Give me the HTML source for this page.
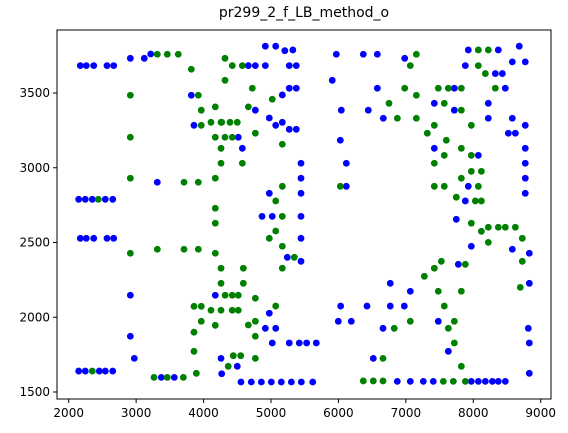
<!DOCTYPE html>
<html><head><meta charset="utf-8"><style>
body{margin:0;background:#fff;}
svg{display:block;font-family:"DejaVu Sans","Liberation Sans",sans-serif;}
</style></head><body>
<svg id="chart" width="568" height="433">
<text x="304" y="17" text-anchor="middle" font-size="14">pr299_2_f_LB_method_o</text>
<g id="marks"></g>
<rect x="57" y="30" width="494" height="369" fill="none" stroke="#000" stroke-width="1"/>
<g id="axes"></g>
</svg>
<script>
const xTicks=[2000,3000,4000,5000,6000,7000,8000,9000];
const yTicks=[1500,2000,2500,3000,3500];
const blueX=[2172,2261,2371,2568,2667,2914,3121,3216,3818,3858,2148,2246,2350,2543,2653,3314,
2172,2261,2371,2568,2667,2914,4174,2914,2973,4259,4500,4269,2148,2246,2454,2543,2653,3373,3566,
4664,4768,4916,5271,5375,4916,5070,5205,5324,5271,5375,5168,4768,4975,5070,5168,5271,5375,4515,4575,5445,5445,5445,4975,
4867,5019,5445,5909,5969,6369,6577,6577,6043,6443,6666,6028,6117,6117,
5445,5242,5445,4975,4916,5070,5019,5271,5420,5529,5672,4555,4708,4857,5005,5153,5302,5450,5619,6033,6424,5998,6191,6661,6517,
6983,7926,8371,8682,7882,8327,8431,8579,8771,7719,8475,7422,8223,7719,8223,8579,8771,8520,8624,7422,8075,8771,8771,8771,8771,7926,7882,
7748,7971,8579,8831,7778,6769,7066,8831,6769,6977,7481,8816,8831,7630,8831,6873,7066,7259,7407,7971,8075,8179,8283,8371,8475];
const blueY=[3683,3683,3683,3683,3683,3732,3732,3761,3485,3284,2789,2789,2789,2789,2789,2903,
2528,2528,2528,2528,2528,2147,2147,1873,1725,1725,1672,1622,1640,1640,1640,1640,1640,1598,1598,
3683,3683,3683,3683,3683,3813,3813,3783,3788,3532,3532,3487,3385,3333,3284,3304,3257,3257,3204,3130,3030,2930,2829,2829,
2675,2675,2675,3585,3759,3759,3759,3532,3385,3385,3331,3184,3030,2876,
2528,2401,2374,2027,1926,1926,1828,1828,1828,1828,1828,1567,1567,1567,1567,1567,1567,1567,1567,2075,2075,1973,1973,1926,1725,
3732,3788,3788,3813,3683,3630,3630,3708,3708,3532,3532,3431,3431,3385,3331,3331,3284,3231,3231,3130,3083,3130,3030,2930,2829,2876,2778,
2655,2475,2455,2428,2354,2227,2174,2227,2075,2075,1973,1926,1828,1772,1625,1571,1571,1571,1571,1571,1571,1571,1571,1571,1571];
const greenX=[3314,3462,3625,3818,2914,3922,3966,4174,3966,4110,4259,2914,4174,4259,4259,2914,3710,3922,4174,2439,4174,
4174,2914,3314,3710,3922,4174,4259,4259,4320,3858,3966,4110,4259,3966,4174,3858,3858,4366,4441,4551,2350,3265,3462,3700,3893,
4318,4426,4575,4318,4723,5019,4664,4269,4392,4500,4318,4426,4768,5168,4575,5168,5070,6750,6028,
5168,5070,4975,5168,5346,5168,4590,4590,4426,4515,4426,4515,4768,5070,4664,4768,4768,4768,6661,6369,6517,6661,
7156,7066,8075,8223,8075,8179,6983,7156,7481,7630,7823,8327,7570,7823,6874,7156,7422,7318,7971,7600,7570,7422,7823,7971,7971,8120,7823,7422,7570,8075,7748,8031,8120,
7971,8120,8223,8371,8475,8624,8223,8727,8727,7526,7422,7274,7882,7481,7823,8697,7570,6828,7066,7719,7630,7719,7823,7556,7704,7882];
const greenY=[3759,3759,3759,3659,3485,3485,3385,3407,3284,3304,3304,3204,3204,3130,3030,2930,2903,2903,2930,2789,2729,
2629,2428,2455,2455,2455,2428,2328,2227,2147,2073,2073,2047,2047,1973,1946,1900,1772,1672,1743,1743,1640,1598,1598,1598,1625,
3732,3683,3683,3585,3532,3458,3407,3304,3304,3304,3204,3204,3231,3157,3030,2876,2778,3431,2876,
2675,2577,2528,2475,2401,2328,2328,2227,2147,2147,2047,2047,2127,2075,1948,1973,1873,1725,1725,1574,1574,1574,
3759,3683,3788,3788,3683,3630,3532,3485,3532,3532,3532,3532,3431,3385,3331,3331,3284,3231,3284,3184,3083,3030,3130,3083,2976,2976,2930,2876,2876,2876,2803,2778,2778,
2629,2575,2602,2602,2602,2602,2501,2528,2374,2374,2328,2274,2354,2174,2174,2200,2075,1926,1973,1973,1926,1828,1672,1571,1571,1571];

const NS='http://www.w3.org/2000/svg';
const sx=v=>68.7+(v-2000)*0.06743;
const sy=v=>392-(v-1500)*0.1495;
const marks=document.getElementById('marks');
const axes=document.getElementById('axes');
function dots(xs,ys,color,name){
  for(let i=0;i<xs.length;i++){
    const c=document.createElementNS(NS,'circle');
    c.setAttribute('cx',sx(xs[i]));c.setAttribute('cy',sy(ys[i]));
    c.setAttribute('r',3.4);c.setAttribute('fill',color);
    
    
    marks.appendChild(c);
  }
}
dots(blueX,blueY,'#0000ff','blue-point');
dots(greenX,greenY,'#008000','green-point');
xTicks.forEach(t=>{
  const x=sx(t);
  const l=document.createElementNS(NS,'line');
  l.setAttribute('x1',x);l.setAttribute('x2',x);l.setAttribute('y1',399);l.setAttribute('y2',403);l.setAttribute('stroke','#000');
  
  
  axes.appendChild(l);
  const tx=document.createElementNS(NS,'text');
  tx.setAttribute('x',x);tx.setAttribute('y',417);tx.setAttribute('text-anchor','middle');tx.setAttribute('font-size','12');
  tx.textContent=t;
  
  
  axes.appendChild(tx);
});
yTicks.forEach(t=>{
  const y=sy(t);
  const l=document.createElementNS(NS,'line');
  l.setAttribute('x1',53);l.setAttribute('x2',57);l.setAttribute('y1',y);l.setAttribute('y2',y);l.setAttribute('stroke','#000');
  
  
  axes.appendChild(l);
  const tx=document.createElementNS(NS,'text');
  tx.setAttribute('x',50);tx.setAttribute('y',y+4);tx.setAttribute('text-anchor','end');tx.setAttribute('font-size','12');
  tx.textContent=t;
  
  
  axes.appendChild(tx);
});
</script>
</body></html>
